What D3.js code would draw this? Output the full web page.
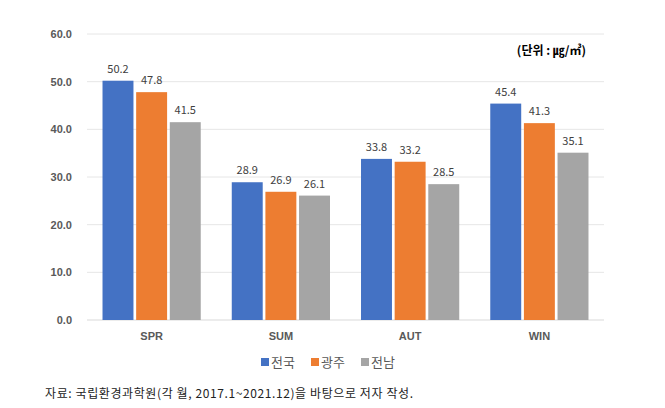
<!DOCTYPE html>
<html>
<head>
<meta charset="utf-8">
<script src="https://cdn.jsdelivr.net/npm/d3@7"></script>
<style>
  body { margin: 0; background: #fff; }
  svg { display: block; font-family: "Noto Sans CJK KR", "Noto Sans", sans-serif; }
</style>
</head>
<body>
<svg id="chart" width="665" height="408"></svg>
<script>
// data
const seasons = ['SPR', 'SUM', 'AUT', 'WIN']
const regions = ['전국', '광주', '전남']
const nationwide = [50.2, 28.9, 33.8, 45.4]
const gwangju = [47.8, 26.9, 33.2, 41.3]
const jeonnam = [41.5, 26.1, 28.5, 35.1]
const yTicks = [0, 10, 20, 30, 40, 50, 60]
const colors = ['#4472c4', '#ed7d31', '#a5a5a5']

const series = [nationwide, gwangju, jeonnam]

const svg = d3.select('#chart')
const margin = { left: 87, right: 61, top: 34, bottom: 88 }
const width = 665 - margin.left - margin.right
const height = 408 - margin.top - margin.bottom

const g = svg.append('g')
    .attr('transform', `translate(${margin.left}, ${margin.top})`)

const x = d3.scaleBand()
    .domain(seasons)
    .range([0, width])
    .paddingInner(0.24)
    .paddingOuter(0.12)

const xSub = d3.scaleBand()
    .domain(regions)
    .range([0, x.bandwidth()])
    .paddingInner(0.08)

const y = d3.scaleLinear()
    .domain([0, 60])
    .range([height, 0])

//gridlines
g.selectAll('.grid')
    .data(yTicks)
    .enter().append('line')
    .attr('class', 'grid')
    .attr('x1', 0)
    .attr('x2', width)
    .attr('y1', d => y(d))
    .attr('y2', d => y(d))
    .attr('stroke', d => d === 0 ? '#d9d9d9' : '#e6e6e6')
    .attr('stroke-width', 1)

//y axis labels
const yAxis = g.append('g')
    .call(d3.axisLeft(y).tickValues(yTicks).tickFormat(d3.format('.1f')).tickSize(0).tickPadding(15))
yAxis.select('.domain').remove()
yAxis.selectAll('text')
    .attr('font-size', '11px')
    .attr('font-weight', 'bold')
    .attr('fill', '#595959')

//bars
regions.forEach((r, i) => {
    const grp = g.append('g')
    grp.selectAll('rect')
        .data(series[i])
        .enter().append('rect')
        .attr('x', (d, j) => x(seasons[j]) + xSub(r))
        .attr('y', d => y(d))
        .attr('width', xSub.bandwidth())
        .attr('height', d => height - y(d))
        .attr('fill', colors[i])
    grp.selectAll('text')
        .data(series[i])
        .enter().append('text')
        .attr('x', (d, j) => x(seasons[j]) + xSub(r) + xSub.bandwidth() / 2)
        .attr('y', d => y(d) - 8)
        .attr('text-anchor', 'middle')
        .attr('font-size', '11px')
        .attr('fill', '#404040')
        .text(d => d.toFixed(1))
})

//x axis labels
const xAxis = g.append('g')
    .attr('transform', `translate(0, ${height})`)
    .call(d3.axisBottom(x).tickSize(0).tickPadding(12))
xAxis.select('.domain').remove()
xAxis.selectAll('text')
    .attr('font-size', '11px')
    .attr('font-weight', 'bold')
    .attr('fill', '#595959')

//unit label
svg.append('text')
    .attr('x', 586)
    .attr('y', 55)
    .attr('text-anchor', 'end')
    .attr('font-size', '12px')
    .attr('font-weight', 'bold')
    .attr('fill', '#000')
    .text('(단위 : ㎍/㎥)')

//legend
const legendX = [261, 311, 361]
const legend = svg.append('g')
regions.forEach((r, i) => {
    legend.append('rect')
        .attr('x', legendX[i])
        .attr('y', 358)
        .attr('width', 8)
        .attr('height', 8)
        .attr('fill', colors[i])
    legend.append('text')
        .attr('x', legendX[i] + 10)
        .attr('y', 367)
        .attr('font-size', '13px')
        .attr('fill', '#595959')
        .text(r)
})

//source
svg.append('text')
    .attr('x', 45)
    .attr('y', 398)
    .attr('font-size', '12px')
    .attr('letter-spacing', '0.6px')
    .attr('fill', '#222')
    .text('자료: 국립환경과학원(각 월, 2017.1~2021.12)을 바탕으로 저자 작성.')
</script>
</body>
</html>
